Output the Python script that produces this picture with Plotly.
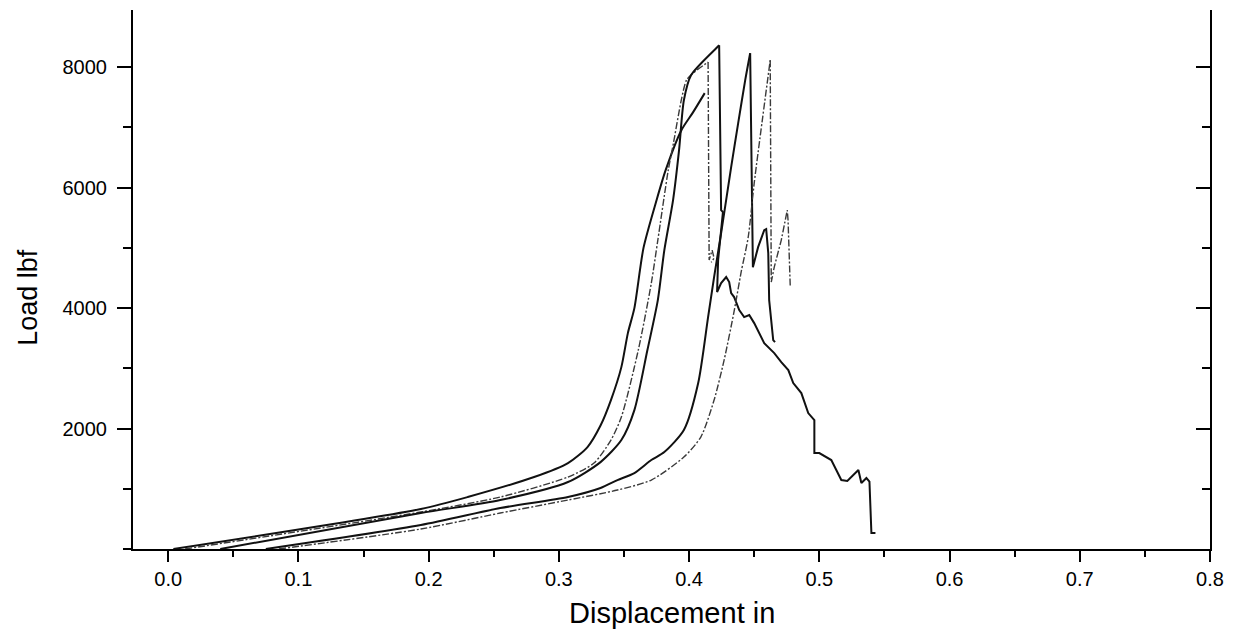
import plotly.graph_objects as go

# curvas carga x deslocamento
# curva 1 - continua, termina suave
x1 = [0.004, 0.194, 0.230, 0.281, 0.307, 0.322, 0.332, 0.340, 0.348, 0.353, 0.358,
      0.365, 0.375, 0.382, 0.394, 0.403, 0.412]
y1 = [0, 664, 863, 1195, 1427, 1693, 2050, 2473, 3020, 3585, 4000,
      5000, 5790, 6290, 6950, 7250, 7570]

# curva 2 - traco-ponto
x2 = [0.013, 0.194, 0.255, 0.307, 0.327, 0.340, 0.348, 0.361, 0.371, 0.376, 0.384,
      0.388, 0.394, 0.398, 0.403, 0.4146, 0.4154, 0.4177, 0.4192, 0.417]
y2 = [0, 614, 863, 1195, 1427, 1809, 2191, 3303, 4415, 5129, 6290,
      6739, 7452, 7785, 7902, 8085, 4797, 4963, 4830, 4760]

# curva 3 - continua, com a cauda longa depois da ruptura
x3 = [0.040, 0.194, 0.255, 0.307, 0.332, 0.348, 0.358, 0.368, 0.376, 0.381, 0.3877,
      0.3923, 0.396, 0.4015, 0.4208, 0.4231, 0.4246, 0.426, 0.4223, 0.4215,
      0.4246, 0.4285, 0.4308, 0.4323, 0.4346, 0.4385, 0.4423, 0.4462, 0.450,
      0.4577, 0.4654, 0.4708, 0.4762, 0.480, 0.4862, 0.4915, 0.4962, 0.4962,
      0.500, 0.5092, 0.5169, 0.5215, 0.530, 0.5323, 0.5362, 0.5385, 0.540, 0.5431]
y3 = [0, 597, 813, 1112, 1443, 1809, 2306, 3303, 4133, 4963, 5793,
      6622, 7452, 7868, 8315, 8365, 5627, 5593, 4797, 4266,
      4415, 4515, 4432, 4249, 4183, 3967, 3851, 3884, 3751,
      3419, 3253, 3104, 2971, 2755, 2589, 2257, 2141, 1593,
      1593, 1477, 1145, 1129, 1311, 1095, 1178, 1120, 266, 266]

# curva 4 - continua, grupo da direita
x4 = [0.075, 0.194, 0.255, 0.307, 0.332, 0.345, 0.358, 0.371, 0.381, 0.396, 0.407,
      0.4146, 0.4192, 0.4246, 0.4323, 0.4377, 0.4431, 0.4469, 0.449, 0.453,
      0.4577, 0.4592, 0.4608, 0.4615, 0.4646, 0.466]
y4 = [0, 398, 680, 863, 1012, 1145, 1261, 1477, 1610, 1975, 2755,
      3851, 4515, 5245, 6340, 7071, 7785, 8232, 4680, 5012,
      5295, 5311, 4913, 4133, 3469, 3436]

# curva 5 - traco-ponto, grupo da direita
x5 = [0.085, 0.194, 0.255, 0.307, 0.345, 0.371, 0.396, 0.409, 0.4192, 0.4269, 0.4346,
      0.440, 0.4454, 0.450, 0.4623, 0.4631, 0.4654, 0.4708, 0.4754, 0.476, 0.4777]
y5 = [0, 332, 597, 813, 979, 1145, 1527, 1859, 2473, 3137, 3950,
      4600, 5178, 6075, 8116, 4432, 4681, 5129, 5627, 5460, 4349]

x_ticks = [0.0, 0.1, 0.2, 0.3, 0.4, 0.5, 0.6, 0.7, 0.8]
y_ticks = [2000, 4000, 6000, 8000]

FONT = "Liberation Sans, Arial, sans-serif"
SOLID = dict(color="#111111", width=2)
DASHDOT = dict(color="#3a3a3a", width=1.4, dash="7px,2px,2px,2px")


def add_curve(fig, xs, ys, ln):
    # parte de subida suave (spline) ate o pico, depois quebras em linha reta
    peak = ys.index(max(ys))
    fig.add_trace(go.Scatter(x=xs[:peak + 1], y=ys[:peak + 1], mode="lines",
                             line=dict(ln, shape="spline", smoothing=0.7),
                             showlegend=False, hoverinfo="x+y"))
    if peak < len(xs) - 1:
        fig.add_trace(go.Scatter(x=xs[peak:], y=ys[peak:], mode="lines",
                                 line=ln, showlegend=False, hoverinfo="x+y"))


fig = go.Figure()
for xs, ys, ln in [(x1, y1, SOLID), (x2, y2, DASHDOT), (x3, y3, SOLID),
                   (x4, y4, SOLID), (x5, y5, DASHDOT)]:
    add_curve(fig, xs, ys, ln)

# eixo da direita so com ticks para dentro
fig.add_trace(go.Scatter(x=[None], y=[None], yaxis="y2", showlegend=False,
                         hoverinfo="skip"))

y_range = [0, 8950]

# a pagina tem margem de 8px no body, por isso o tamanho menor
fig.update_layout(
    width=1217,
    height=625,
    paper_bgcolor="white",
    plot_bgcolor="white",
    margin=dict(l=125, r=15, t=2, b=84, autoexpand=False),
    font=dict(family=FONT, color="black"),
    xaxis=dict(
        range=[-0.027, 0.8],
        tickvals=x_ticks,
        tickformat=".1f",
        ticks="outside",
        ticklen=11,
        tickwidth=1.5,
        tickcolor="black",
        minor=dict(dtick=0.05, tick0=0, ticks="outside", ticklen=6,
                   tickwidth=1.5, tickcolor="black"),
        showline=True,
        linecolor="black",
        linewidth=2,
        showgrid=False,
        zeroline=False,
        automargin=False,
        tickfont=dict(size=20),
    ),
    yaxis=dict(
        range=y_range,
        tickvals=y_ticks,
        ticks="outside",
        ticklen=14,
        tickwidth=1.5,
        tickcolor="black",
        minor=dict(dtick=1000, tick0=0, ticks="outside", ticklen=8,
                   tickwidth=1.5, tickcolor="black"),
        showline=True,
        linecolor="black",
        linewidth=2,
        showgrid=False,
        zeroline=False,
        automargin=False,
        tickfont=dict(size=20),
        ticklabelstandoff=6,
    ),
    yaxis2=dict(
        overlaying="y",
        side="right",
        anchor="x",
        range=y_range,
        tickvals=y_ticks,
        ticks="inside",
        ticklen=14,
        tickwidth=1.5,
        tickcolor="black",
        minor=dict(dtick=1000, tick0=0, ticks="inside", ticklen=8,
                   tickwidth=1.5, tickcolor="black"),
        showticklabels=False,
        showline=True,
        linecolor="black",
        linewidth=2,
        showgrid=False,
        zeroline=False,
        automargin=False,
    ),
    annotations=[
        dict(text="Load lbf", textangle=-90, showarrow=False,
             xref="paper", yref="paper", x=-0.0975, y=0.468,
             xanchor="center", yanchor="middle", font=dict(size=27)),
        dict(text="Displacement in", showarrow=False,
             xref="paper", yref="paper", x=0.5, y=-0.119,
             xanchor="center", yanchor="middle", font=dict(size=29)),
    ],
)

fig.write_html("out.html")
